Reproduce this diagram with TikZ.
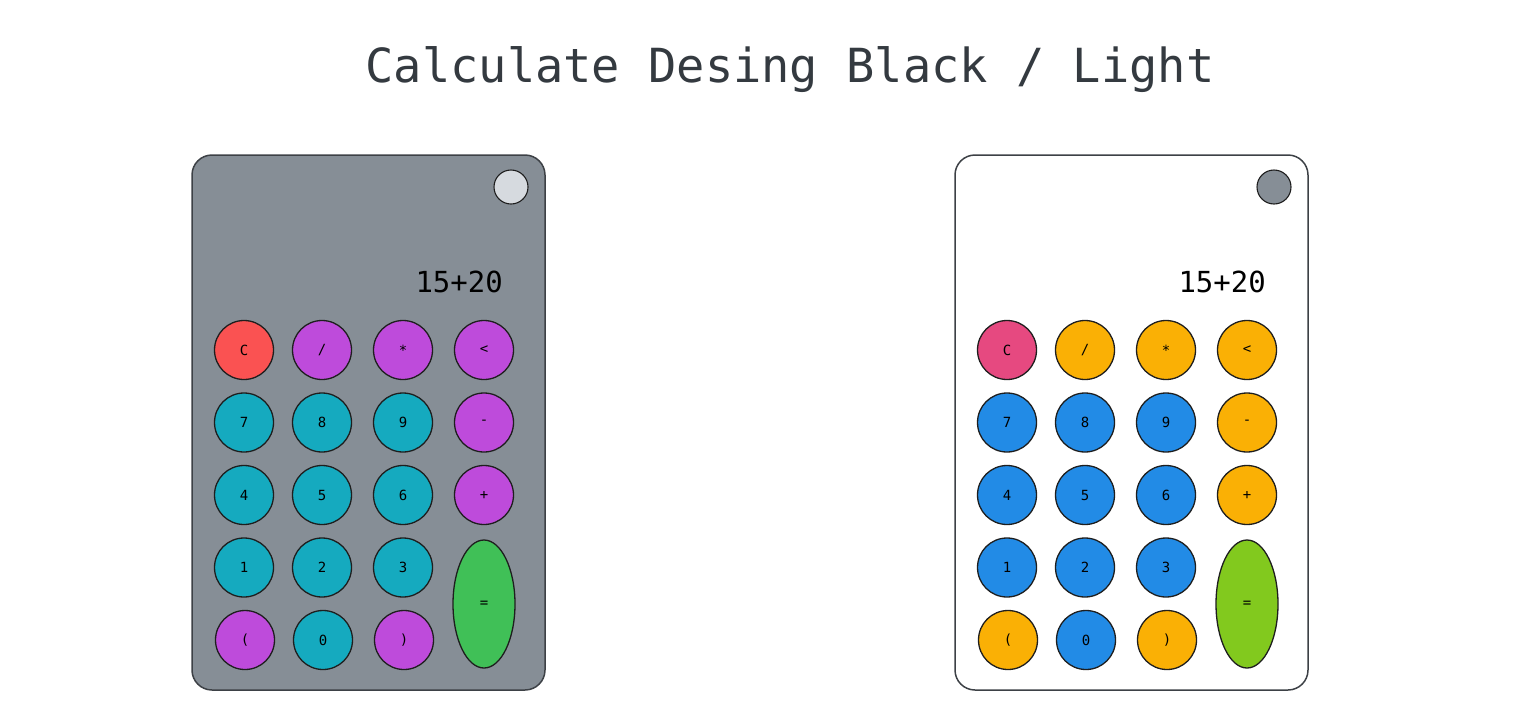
\documentclass[tikz,border=0pt]{standalone}
\usepackage{fontspec}
\setmonofont{DejaVu Sans Mono}
\usepackage{tikz}
\usetikzlibrary{shapes.geometric}
\definecolor{ink}{HTML}{1E1E1E}
\definecolor{titletext}{HTML}{343A40}
\definecolor{outline}{HTML}{3D4146}
\definecolor{darkbody}{HTML}{868E96}
\definecolor{darktoggle}{HTML}{D6DADF}
\definecolor{lightbody}{HTML}{FFFFFF}
\definecolor{lighttoggle}{HTML}{868E96}
\definecolor{darkc}{HTML}{FA5252}
\definecolor{darkop}{HTML}{BE4BDB}
\definecolor{darknum}{HTML}{15AABF}
\definecolor{darkeq}{HTML}{40C057}
\definecolor{lightc}{HTML}{E64980}
\definecolor{lightop}{HTML}{FAB005}
\definecolor{lightnum}{HTML}{228BE6}
\definecolor{lighteq}{HTML}{82C91E}
\tikzset{
  calcbox/.style={draw=outline, line width=1.5pt, rounded corners=20pt},
  key/.style={circle, draw=ink, line width=1.3pt, minimum size=59pt, inner sep=0pt,
    font=\ttfamily\fontsize{14}{14}\selectfont},
  eqkey/.style={ellipse, draw=ink, line width=1.3pt, minimum width=62pt,
    minimum height=128pt, inner sep=0pt, font=\ttfamily\fontsize{14}{14}\selectfont},
  toggle/.style={circle, draw=ink, line width=1.1pt, minimum size=34pt, inner sep=0pt},
  screen/.style={anchor=base east, inner sep=0pt, font=\ttfamily\fontsize{29}{29}\selectfont},
  headline/.style={anchor=base, inner sep=0pt, text=titletext,
    font=\ttfamily\fontsize{47}{47}\selectfont}
}
\begin{document}
\begin{tikzpicture}[x=1pt,y=-1pt]
  \useasboundingbox (0,0) rectangle (1539,702);
  \node[headline] (title) at (790,82) {Calculate Desing Black / Light};

  % one calculator per theme, same key layout
  \foreach \th/\sx in {dark/192, light/955} {
    \begin{scope}[shift={(\sx,155)}]
      \draw[calcbox, fill=\th body] (0,0) rectangle (353,535);
      \node[toggle, fill=\th toggle] (\th-toggle) at (319,32) {};
      \node[screen] (\th-screen) at (311,137) {15+20};

      \foreach \k/\x/\r/\t/\lab in {c/52/1/c/C, div/130/1/op/{/}, mul/211/1/op/*, back/292/1/op/<,
          n7/52/2/num/7, n8/130/2/num/8, n9/211/2/num/9, sub/292/2/op/-,
          n4/52/3/num/4, n5/130/3/num/5, n6/211/3/num/6, add/292/3/op/+,
          n1/52/4/num/1, n2/130/4/num/2, n3/211/4/num/3,
          lpar/53/5/op/(, n0/131/5/num/0, rpar/212/5/op/)}
        \node[key, fill=\th\t] (\th-\k) at ({\x},{195+(\r-1)*72.5}) {\lab};

      \node[eqkey, fill=\th eq] (\th-eq) at (292,449) {=};
    \end{scope}
  }
\end{tikzpicture}
\end{document}
